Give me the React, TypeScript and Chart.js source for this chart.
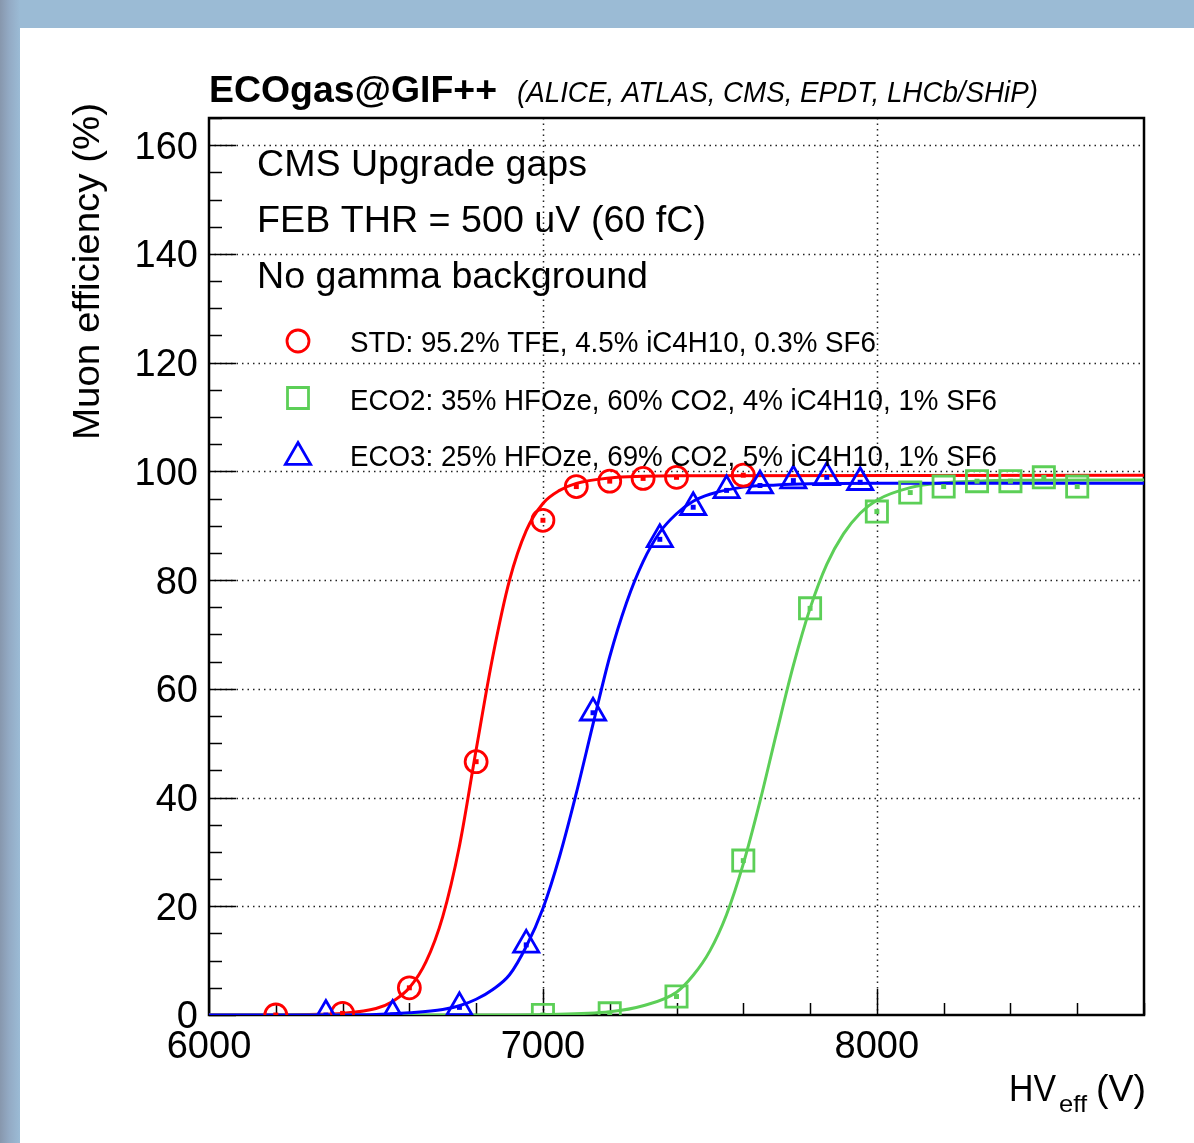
import React, { useEffect, useRef } from 'react';
import { Chart, registerables } from 'chart.js';

Chart.register(...registerables);

const FONT = '"Liberation Sans", Arial, Helvetica, sans-serif';

// ---- measured data points ----
const stdHV = [6200, 6400, 6600, 6800, 7000, 7100, 7200, 7300, 7400, 7600];
const stdEff = [0, 0.3, 5.0, 46.6, 91.0, 97.2, 98.2, 98.7, 98.9, 99.3];

const eco2HV = [7000, 7200, 7400, 7600, 7800, 8000, 8100, 8200, 8300, 8400, 8500, 8600];
const eco2Eff = [0, 0.3, 3.4, 28.4, 74.8, 92.6, 96.1, 97.2, 98.2, 98.2, 98.9, 97.2];

const eco3HV = [6350, 6550, 6750, 6950, 7150, 7350, 7450, 7550, 7650, 7750, 7850, 7950];
const eco3Eff = [0, 0, 1.4, 12.9, 55.6, 87.5, 93.4, 96.5, 97.4, 98.3, 98.9, 98.0];

// ---- fit curves ----
const stdFitHV = [6000, 6200, 6300, 6400, 6500, 6550, 6600, 6650, 6700, 6750, 6800, 6850, 6900, 6950, 7000, 7050, 7100, 7200, 7300, 7400, 8800];
const stdFitEff = [0, 0, 0.1, 0.3, 1.2, 2.5, 5.0, 9.8, 18.1, 31.1, 48.8, 66.0, 80.0, 89.1, 94.1, 96.5, 97.8, 98.8, 99.1, 99.2, 99.3];

const eco2FitHV = [6000, 6800, 7000, 7200, 7300, 7400, 7450, 7500, 7550, 7600, 7650, 7700, 7750, 7800, 7850, 7900, 7950, 8000, 8100, 8200, 8300, 8400, 8800];
const eco2FitEff = [0, 0, 0.1, 0.6, 1.7, 4.2, 7.3, 11.8, 18.5, 27.8, 39.3, 52.0, 64.3, 74.8, 82.9, 88.5, 92.3, 94.7, 97.0, 97.9, 98.2, 98.35, 98.4];

const eco3FitHV = [6000, 6300, 6500, 6600, 6700, 6750, 6800, 6850, 6900, 6950, 7000, 7050, 7100, 7150, 7200, 7250, 7300, 7350, 7400, 7450, 7500, 7600, 7700, 7800, 8000, 8800];
const eco3FitEff = [0, 0, 0.1, 0.4, 1.0, 1.7, 2.9, 4.7, 7.4, 12.6, 19.6, 29.2, 40.8, 53.5, 65.9, 75.8, 83.4, 88.8, 92.2, 94.5, 95.8, 97.1, 97.5, 97.7, 97.8, 97.8];

// ---- axes ----
const xMin = 6000;
const xMax = 8800;
const yMin = 0;
const yMax = 165;
const xTicks = [6000, 7000, 8000];
const yTicks = [0, 20, 40, 60, 80, 100, 120, 140, 160];
const xMinorStep = 200;
const yMinorStep = 5;

// ---- texts ----
const titleMain = 'ECOgas@GIF++';
const titleSub = '(ALICE, ATLAS, CMS, EPDT, LHCb/SHiP)';
const infoLines = ['CMS Upgrade gaps', 'FEB THR = 500 uV (60 fC)', 'No gamma background'];
const seriesLabels = [
  'STD: 95.2% TFE, 4.5% iC4H10, 0.3% SF6',
  'ECO2: 35% HFOze, 60% CO2, 4% iC4H10, 1% SF6',
  'ECO3: 25% HFOze, 69% CO2, 5% iC4H10, 1% SF6',
];
const yTitle = 'Muon efficiency (%)';

const RED = '#ff0000';
const GREEN = '#5ccf57';
const BLUE = '#0000ff';

const pts = (xs: number[], ys: number[]) => xs.map((x, i) => ({ x, y: ys[i] }));

function drawText(ctx: CanvasRenderingContext2D, s: string, x: number, y: number, font: string, width: number, rot = 0) {
  ctx.save();
  ctx.font = font;
  ctx.textAlign = 'left';
  ctx.textBaseline = 'alphabetic';
  ctx.fillStyle = '#000';
  const w = ctx.measureText(s).width;
  ctx.translate(x, y);
  if (rot) ctx.rotate(rot);
  ctx.scale(width / w, 1);
  ctx.fillText(s, 0, 0);
  ctx.restore();
}

function drawMarker(ctx: CanvasRenderingContext2D, style: string, x: number, y: number, color: string) {
  ctx.save();
  ctx.strokeStyle = color;
  ctx.lineWidth = 2.8;
  ctx.setLineDash([]);
  ctx.beginPath();
  if (style === 'circle') ctx.arc(x, y, 11, 0, Math.PI * 2);
  else if (style === 'rect') ctx.rect(x - 10.5, y - 10.5, 21, 21);
  else {
    ctx.moveTo(x, y - 14.5);
    ctx.lineTo(x + 12.6, y + 7.3);
    ctx.lineTo(x - 12.6, y + 7.3);
    ctx.closePath();
  }
  ctx.stroke();
  ctx.restore();
}

const rootStyle = {
  id: 'rootStyle',
  beforeDatasetsDraw(chart: any) {
    const { ctx, chartArea, scales } = chart;
    const { left, right, top, bottom } = chartArea;
    const xs = scales.x;
    const ys = scales.y;
    ctx.save();
    // dotted grid
    ctx.strokeStyle = '#222';
    ctx.lineWidth = 1.5;
    ctx.setLineDash([1.5, 4]);
    yTicks.forEach((v) => {
      if (v === yMin) return;
      const py = Math.round(ys.getPixelForValue(v)) + 0.5;
      ctx.beginPath();
      ctx.moveTo(left, py);
      ctx.lineTo(right, py);
      ctx.stroke();
    });
    xTicks.forEach((v) => {
      if (v === xMin) return;
      const px = Math.round(xs.getPixelForValue(v)) + 0.5;
      ctx.beginPath();
      ctx.moveTo(px, top);
      ctx.lineTo(px, bottom);
      ctx.stroke();
    });
    ctx.setLineDash([]);
    // ticks
    ctx.strokeStyle = '#000';
    ctx.lineWidth = 1.5;
    for (let v = yMin; v <= yMax + 1e-6; v += yMinorStep) {
      const py = Math.round(ys.getPixelForValue(v)) + 0.5;
      const len = v % 20 === 0 ? 27 : 13;
      ctx.beginPath();
      ctx.moveTo(left, py);
      ctx.lineTo(left + len, py);
      ctx.stroke();
    }
    for (let v = xMin; v <= xMax + 1e-6; v += xMinorStep) {
      const px = Math.round(xs.getPixelForValue(v)) + 0.5;
      const len = v % 1000 === 0 ? 26 : 12;
      ctx.beginPath();
      ctx.moveTo(px, bottom);
      ctx.lineTo(px, bottom - len);
      ctx.stroke();
    }
    // frame
    ctx.lineWidth = 2.5;
    ctx.strokeRect(left, top, right - left, bottom - top);
    ctx.restore();
  },
  afterDraw(chart: any) {
    const { ctx } = chart;
    // title
    drawText(ctx, titleMain, 209, 102, `bold 36px ${FONT}`, 288);
    drawText(ctx, titleSub, 517, 102, `italic 30px ${FONT}`, 521);
    // info
    drawText(ctx, infoLines[0], 257, 176, `36px ${FONT}`, 330);
    drawText(ctx, infoLines[1], 257, 232, `36px ${FONT}`, 449);
    drawText(ctx, infoLines[2], 257, 288, `36px ${FONT}`, 391);
    // legend
    drawMarker(ctx, 'circle', 298, 341, RED);
    drawMarker(ctx, 'rect', 298, 398, GREEN);
    drawMarker(ctx, 'triangle', 298, 457, BLUE);
    drawText(ctx, seriesLabels[0], 350, 352, `29px ${FONT}`, 526);
    drawText(ctx, seriesLabels[1], 350, 410, `29px ${FONT}`, 647);
    drawText(ctx, seriesLabels[2], 350, 466, `29px ${FONT}`, 647);
    // axis titles
    drawText(ctx, yTitle, 99, 440, `36px ${FONT}`, 337, -Math.PI / 2);
    drawText(ctx, 'HV', 1009, 1101, `37px ${FONT}`, 47);
    drawText(ctx, 'eff', 1059, 1112, `24px ${FONT}`, 28);
    drawText(ctx, '(V)', 1096, 1101, `37px ${FONT}`, 50);
  },
};

export default function App() {
  const ref = useRef<HTMLCanvasElement>(null);

  useEffect(() => {
    if (!ref.current) return;
    const markerDs = (label: string, xs: number[], ys: number[], color: string, style: string, radius: number, order: number) => ({
      label,
      data: pts(xs, ys),
      showLine: false,
      pointStyle: style,
      pointRadius: radius,
      pointHoverRadius: radius,
      pointBorderColor: color,
      pointBackgroundColor: 'rgba(0,0,0,0)',
      pointBorderWidth: 2.8,
      borderColor: color,
      order,
    });
    const dotDs = (xs: number[], ys: number[], color: string, order: number) => ({
      label: 'dot',
      data: pts(xs, ys),
      showLine: false,
      pointStyle: 'rect',
      pointRadius: 3.5,
      pointBorderWidth: 0,
      pointBackgroundColor: color,
      pointBorderColor: color,
      order,
    });
    const fitDs = (label: string, xs: number[], ys: number[], color: string, order: number) => ({
      label,
      data: pts(xs, ys),
      showLine: true,
      pointRadius: 0,
      borderColor: color,
      borderWidth: 3,
      backgroundColor: color,
      cubicInterpolationMode: 'monotone',
      fill: false,
      order,
    });

    const chart = new Chart(ref.current, {
      type: 'scatter',
      data: {
        datasets: [
          dotDs(stdHV, stdEff, RED, 0),
          dotDs(eco2HV, eco2Eff, GREEN, 0),
          dotDs(eco3HV, eco3Eff, BLUE, 0),
          markerDs('ECO3', eco3HV, eco3Eff, BLUE, 'triangle', 14.5, 1),
          markerDs('ECO2', eco2HV, eco2Eff, GREEN, 'rect', 15, 2),
          markerDs('STD', stdHV, stdEff, RED, 'circle', 11, 3),
          fitDs('ECO3 fit', eco3FitHV, eco3FitEff, BLUE, 4),
          fitDs('ECO2 fit', eco2FitHV, eco2FitEff, GREEN, 5),
          fitDs('STD fit', stdFitHV, stdFitEff, RED, 6),
        ] as any,
      },
      options: {
        animation: false,
        responsive: false,
        devicePixelRatio: 1,
        layout: { padding: { top: 118, right: 50, bottom: 0, left: 0 } },
        plugins: { legend: { display: false }, tooltip: { enabled: false } },
        events: [],
        scales: {
          x: {
            type: 'linear',
            min: xMin,
            max: xMax,
            afterBuildTicks: (s: any) => {
              s.ticks = xTicks.map((v) => ({ value: v }));
            },
            afterFit: (s: any) => {
              s.height = 128;
            },
            ticks: {
              font: { family: FONT, size: 38 },
              color: '#000',
              padding: 10,
              maxRotation: 0,
              autoSkip: false,
              callback: (v: any) => String(v),
            },
            grid: { display: false, drawTicks: false, tickLength: 0 },
            border: { display: false },
          },
          y: {
            type: 'linear',
            min: yMin,
            max: yMax,
            afterBuildTicks: (s: any) => {
              s.ticks = yTicks.map((v) => ({ value: v }));
            },
            afterFit: (s: any) => {
              s.width = 209;
            },
            ticks: {
              font: { family: FONT, size: 38 },
              color: '#000',
              padding: 11,
              labelOffset: 3,
              autoSkip: false,
              callback: (v: any) => String(v),
            },
            grid: { display: false, drawTicks: false, tickLength: 0 },
            border: { display: false },
          },
        },
      } as any,
      plugins: [rootStyle],
    });
    return () => chart.destroy();
  }, []);

  return (
    <div
      style={{
        position: 'absolute',
        left: 0,
        top: 0,
        width: 1194,
        height: 1143,
        overflow: 'hidden',
        background: '#9bbbd5',
      }}
    >
      <div
        style={{
          position: 'absolute',
          left: 0,
          top: 0,
          width: 20,
          height: 1143,
          background: 'linear-gradient(to right, #8797ad 0%, #93aac4 45%, #9bbbd5 100%)',
        }}
      />
      <div style={{ position: 'absolute', left: 20, top: 28, right: 0, bottom: 0, background: '#ffffff' }} />
      <canvas ref={ref} width={1194} height={1143} style={{ position: 'absolute', left: 0, top: 0 }} />
    </div>
  );
}
